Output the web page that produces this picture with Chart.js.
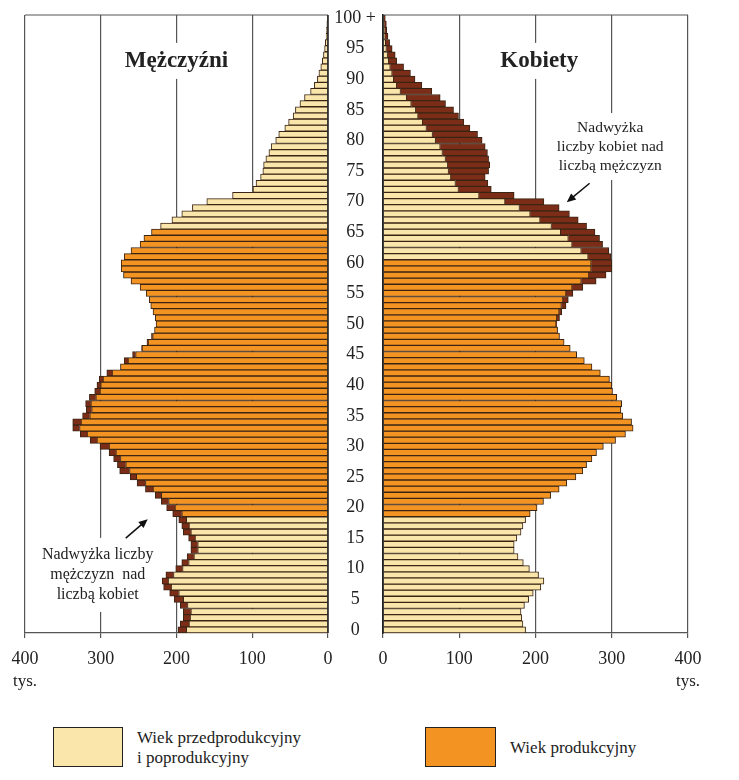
<!DOCTYPE html>
<html lang="pl">
<head>
<meta charset="utf-8">
<title>Piramida wieku</title>
<script src="https://cdn.jsdelivr.net/npm/chart.js@4.4.1/dist/chart.umd.min.js"></script>
<style>
  body { margin: 0; background: #fff; }
  #wrap { position: relative; width: 739px; height: 780px; overflow: hidden; font-family: "Liberation Serif", "DejaVu Serif", serif; color: #222; }
  #menChart { position: absolute; left: 0; top: 0; }
  #womenChart { position: absolute; left: 330px; top: 0; }
  .box { position: absolute; border: 1px solid #222; box-sizing: border-box; }
  .label { position: absolute; font-size: 17px; line-height: 20px; }
</style>
</head>
<body>
<div id="wrap">
  <canvas id="menChart" width="345" height="700" style="width:345px;height:700px"></canvas>
  <canvas id="womenChart" width="409" height="700" style="width:409px;height:700px"></canvas>

  <div class="box" style="left:53px;top:727px;width:70px;height:40px;background:#FAE6AA"></div>
  <div class="label" style="left:137px;top:728px">Wiek przedprodukcyjny<br>i poprodukcyjny</div>
  <div class="box" style="left:425px;top:727px;width:71px;height:40px;background:#F29322"></div>
  <div class="label" style="left:510px;top:738px">Wiek produkcyjny</div>
</div>

<script>
// Age groups 0 ... 100+ (bottom to top)
const ages = [];
for (let a = 0; a <= 100; a++) ages.push(a === 100 ? '100 +' : String(a));

// Population in thousands, index = age
const menValues = [
  198, 195, 191, 191, 195, 203, 209, 217, 219, 214,
  201, 193, 186, 181, 181, 184, 191, 193, 197, 205,
  213, 220, 228, 241, 252, 261, 275, 278, 283, 289,
  301, 314, 327, 337, 337, 324, 319, 320, 315, 308,
  305, 302, 292, 274, 269, 258, 246, 239, 233, 229,
  227, 228, 231, 234, 236, 240, 248, 260, 270, 273,
  273, 269, 260, 248, 243, 233, 221, 206, 193, 179,
  160, 126, 99, 95, 89, 86, 85, 82, 78, 75,
  69, 65, 57, 52, 46, 43, 37, 31, 23, 18,
  14, 12, 9.5, 7.5, 6, 4.5, 3.5, 2.5, 2, 1.5,
  1
];
const womenValues = [
  187, 183.5, 182, 181, 185.5, 191, 197, 207, 211, 204,
  192, 184, 177, 172, 172, 175.5, 181, 183.5, 187, 193,
  202, 210.5, 220, 231, 241, 253, 262, 267, 274, 280,
  289, 305, 318, 328, 326, 314.5, 312, 313, 306.5, 301,
  300, 297, 285, 274, 264, 254, 245.5, 237.5, 231.5, 229,
  228, 231.5, 234.5, 240, 243, 249, 262, 279.5, 292.5, 300,
  300, 299, 296, 288, 284, 278, 267, 256, 244.5, 231,
  211, 172, 142, 137.5, 134, 138.5, 140, 138.5, 137, 134,
  130, 124, 114, 106, 99, 92.5, 82, 75, 64, 51,
  42, 36, 27, 18, 16, 12, 8.7, 6.5, 5, 4.4,
  3
];

// Rows drawn in the "productive age" colour
const prodFrom = 19;
const prodToMen = 65;
const prodToWomen = 60;

const yellow = '#FAE6AA';
const orange = '#F29322';
const brown = '#7B2D17';
const barEdge = '#3A2414';
const gridColor = '#555';
const textColor = '#222';
const serif = '"Liberation Serif", "DejaVu Serif", serif';

// Draws the frame, titles, notes and arrows of one panel
const panelPlugin = {
  id: 'panel',
  beforeDatasetsDraw(chart, args, o) {
    const { ctx } = chart;
    const xs = chart.scales.x, ys = chart.scales.y;
    ctx.save();
    (o.notes || []).forEach(n => {
      ctx.font = n.font;
      const cx = xs.getPixelForValue(n.x);
      const cy = ys.getPixelForValue(n.age);
      const w = Math.max(...n.lines.map(t => ctx.measureText(t).width));
      const h = n.lines.length * n.lineHeight;
      ctx.fillStyle = '#fff';
      ctx.fillRect(cx - w / 2 - 5, cy - h / 2 - n.padY, w + 10, h + 2 * n.padY);
      ctx.fillStyle = textColor;
      ctx.textAlign = 'center';
      ctx.textBaseline = 'middle';
      n.lines.forEach((t, k) => {
        ctx.fillText(t, cx, cy - h / 2 + n.lineHeight * (k + 0.5));
      });
    });
    (o.arrows || []).forEach(a => {
      const x1 = xs.getPixelForValue(a.from[0]), y1 = ys.getPixelForValue(a.from[1]);
      const x2 = xs.getPixelForValue(a.to[0]), y2 = ys.getPixelForValue(a.to[1]);
      const ang = Math.atan2(y2 - y1, x2 - x1);
      ctx.strokeStyle = '#111';
      ctx.fillStyle = '#111';
      ctx.lineWidth = 1.5;
      ctx.beginPath();
      ctx.moveTo(x1, y1);
      ctx.lineTo(x2 - 6 * Math.cos(ang), y2 - 6 * Math.sin(ang));
      ctx.stroke();
      ctx.beginPath();
      ctx.moveTo(x2, y2);
      ctx.lineTo(x2 - 9 * Math.cos(ang) + 4 * Math.sin(ang), y2 - 9 * Math.sin(ang) - 4 * Math.cos(ang));
      ctx.lineTo(x2 - 9 * Math.cos(ang) - 4 * Math.sin(ang), y2 - 9 * Math.sin(ang) + 4 * Math.cos(ang));
      ctx.closePath();
      ctx.fill();
    });
    ctx.restore();
  },
  afterDatasetsDraw(chart) {
    const { ctx, chartArea: a } = chart;
    const x0 = chart.scales.x.getPixelForValue(0);
    ctx.save();
    ctx.strokeStyle = gridColor;
    ctx.lineWidth = 1.2;
    ctx.beginPath();
    ctx.moveTo(a.left, a.top);
    ctx.lineTo(a.right, a.top);
    ctx.stroke();
    ctx.strokeStyle = textColor;
    ctx.lineWidth = 1.5;
    ctx.beginPath();
    ctx.moveTo(x0, a.top);
    ctx.lineTo(x0, a.bottom);
    ctx.stroke();
    ctx.restore();
  },
  afterDraw(chart, args, o) {
    const { ctx, chartArea: a } = chart;
    ctx.save();
    ctx.font = '17px ' + serif;
    ctx.fillStyle = textColor;
    ctx.textAlign = 'center';
    ctx.textBaseline = 'middle';
    ctx.fillText('tys.', chart.scales.x.getPixelForValue(400), a.bottom + 49);
    ctx.restore();
  }
};

function buildChart(canvasId, own, other, prodTo, cfg) {
  const core = own.map((v, i) => Math.min(v, other[i]));
  const excess = own.map((v, i) => v > other[i] ? v - other[i] : null);
  const coreColors = ages.map((a, i) => (i >= prodFrom && i <= prodTo) ? orange : yellow);

  return new Chart(document.getElementById(canvasId), {
    type: 'bar',
    data: {
      labels: ages,
      datasets: [
        { data: core, backgroundColor: coreColors },
        { data: excess, backgroundColor: brown }
      ]
    },
    options: {
      indexAxis: 'y',
      responsive: false,
      animation: false,
      datasets: {
        bar: { borderColor: barEdge, borderWidth: 1, barPercentage: 1, categoryPercentage: 1 }
      },
      layout: { padding: cfg.padding },
      plugins: {
        legend: { display: false },
        tooltip: { enabled: false },
        panel: { notes: cfg.notes, arrows: cfg.arrows }
      },
      scales: {
        x: {
          stacked: true,
          reverse: cfg.reverse,
          min: 0,
          max: 400,
          ticks: { stepSize: 100, padding: 10, maxRotation: 0, color: textColor, font: { family: serif, size: 18 } },
          grid: { color: gridColor, lineWidth: 1.2, tickLength: 5 },
          border: { color: gridColor, width: 1.2 },
          afterFit(s) { s.height = 67; s.paddingLeft = 0; s.paddingRight = 0; }
        },
        y: cfg.yAxis
      }
    },
    plugins: [panelPlugin]
  });
}

// Men: bars grow to the left
buildChart('menChart', menValues, womenValues, prodToMen, {
  reverse: true,
  padding: { left: 25, right: 17, top: 15, bottom: 0 },
  yAxis: { stacked: true, reverse: true, display: false },
  notes: [
    { x: 200, age: 93, lines: ['Mężczyźni'], font: 'bold 23px ' + serif, lineHeight: 24, padY: 6 },
    { x: 304, age: 9, lines: ['Nadwyżka liczby', 'mężczyzn  nad', 'liczbą kobiet'], font: '16px ' + serif, lineHeight: 20, padY: 7 }
  ],
  arrows: [ { from: [267, 15], to: [238, 18.1] } ]
});

// Women: bars grow to the right, age labels in the gap
buildChart('womenChart', womenValues, menValues, prodToWomen, {
  reverse: false,
  padding: { left: 0, right: 51, top: 15, bottom: 0 },
  yAxis: {
    stacked: true,
    reverse: true,
    position: 'left',
    grid: { display: false, drawTicks: false },
    border: { display: true, color: textColor, width: 1.5 },
    ticks: {
      autoSkip: false,
      crossAlign: 'center',
      padding: 7,
      color: textColor,
      font: { family: serif, size: 18 },
      callback: (v, i) => i % 5 === 0 ? ages[i] : ''
    },
    afterFit(s) { s.width = 53; s.paddingTop = 0; s.paddingBottom = 0; }
  },
  notes: [
    { x: 205, age: 93, lines: ['Kobiety'], font: 'bold 23px ' + serif, lineHeight: 24, padY: 6 },
    { x: 298, age: 79, lines: ['Nadwyżka', 'liczby kobiet nad', 'liczbą mężczyzn'], font: '15.5px ' + serif, lineHeight: 19, padY: 5 }
  ],
  arrows: [ { from: [271, 73], to: [241, 69.9] } ]
});
</script>
</body>
</html>
